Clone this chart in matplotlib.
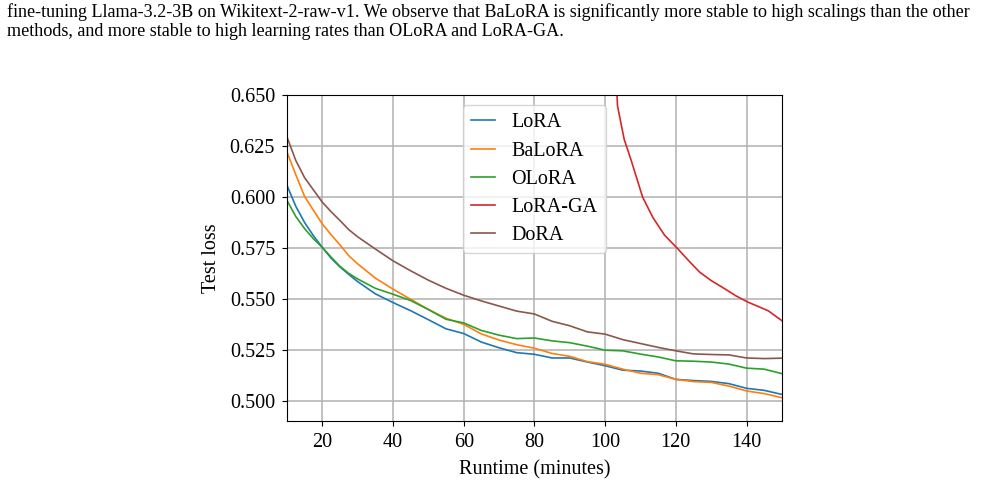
import matplotlib.pyplot as plt

plt.rcParams['font.family'] = ['Liberation Serif', 'DejaVu Serif']

# runtime (minutes) shared by the four stable methods
runtime = [10, 12.5, 15, 17.5, 20, 22.5, 25, 27.5, 30, 35, 40, 45, 50, 55, 60,
           65, 70, 75, 80, 85, 90, 95, 100, 105, 110, 115, 120, 125, 130, 135,
           140, 145, 150]

lora = [0.6058, 0.5955, 0.5875, 0.5810, 0.5753, 0.5700, 0.5657, 0.5620, 0.5585,
        0.5525, 0.5482, 0.5442, 0.5398, 0.5353, 0.5330, 0.5288, 0.5260, 0.5236,
        0.5228, 0.5210, 0.5210, 0.5190, 0.5172, 0.5150, 0.5146, 0.5135, 0.5105,
        0.5099, 0.5095, 0.5084, 0.5061, 0.5051, 0.5031]

balora = [0.6222, 0.6110, 0.6003, 0.5935, 0.5868, 0.5815, 0.5765, 0.5712, 0.5672,
          0.5602, 0.5548, 0.5498, 0.5448, 0.5405, 0.5375, 0.5328, 0.5298, 0.5275,
          0.5258, 0.5232, 0.5218, 0.5192, 0.5179, 0.5155, 0.5135, 0.5128, 0.5105,
          0.5094, 0.5090, 0.5072, 0.5048, 0.5035, 0.5015]

olora = [0.5984, 0.5905, 0.5845, 0.5795, 0.5753, 0.5705, 0.5660, 0.5625, 0.5598,
         0.5552, 0.5523, 0.5492, 0.5448, 0.5400, 0.5382, 0.5345, 0.5322, 0.5305,
         0.5308, 0.5294, 0.5285, 0.5268, 0.5248, 0.5245, 0.5229, 0.5215, 0.5196,
         0.5194, 0.5190, 0.5180, 0.5160, 0.5155, 0.5133]

dora = [0.6296, 0.6180, 0.6095, 0.6035, 0.5975, 0.5928, 0.5885, 0.5840, 0.5805,
        0.5745, 0.5687, 0.5638, 0.5592, 0.5552, 0.5518, 0.5490, 0.5465, 0.5440,
        0.5426, 0.5390, 0.5368, 0.5338, 0.5327, 0.5300, 0.5281, 0.5262, 0.5245,
        0.5230, 0.5227, 0.5225, 0.5210, 0.5207, 0.5209]

# LoRA-GA only enters the visible range late
runtime_ga = [103.0, 103.5, 105.4, 107.3, 110.6, 113.5, 116.8, 120.5, 123.5,
              126.7, 130.0, 133.8, 137.0, 140.4, 143.0, 146.1, 150.0]
lora_ga = [0.6650, 0.6448, 0.6283, 0.6184, 0.6000, 0.5900, 0.5813, 0.5747,
           0.5690, 0.5632, 0.5590, 0.5550, 0.5515, 0.5484, 0.5465, 0.5442, 0.5393]

caption = ["fine-tuning Llama-3.2-3B on Wikitext-2-raw-v1. We observe that BaLoRA is "
           "significantly more stable to high scalings than the other",
           "methods, and more stable to high learning rates than OLoRA and LoRA-GA."]

fig = plt.figure(figsize=(9.86, 4.96), dpi=100)
ax = fig.add_axes([0.291, 0.151, 0.502, 0.657])

ax.plot(runtime, lora, color='#1f77b4', lw=1.2, label='LoRA')
ax.plot(runtime, balora, color='#ff7f0e', lw=1.2, label='BaLoRA')
ax.plot(runtime, olora, color='#2ca02c', lw=1.2, label='OLoRA')
ax.plot(runtime_ga, lora_ga, color='#d62728', lw=1.2, label='LoRA-GA')
ax.plot(runtime, dora, color='#8c564b', lw=1.2, label='DoRA')

ax.set_xlim(10, 150)
ax.set_ylim(0.49, 0.65)
ax.set_xticks([20, 40, 60, 80, 100, 120, 140])
ax.set_yticks([0.500, 0.525, 0.550, 0.575, 0.600, 0.625, 0.650])
ax.yaxis.set_major_formatter(plt.FormatStrFormatter('%.3f'))
ax.tick_params(labelsize=14.5, pad=5)
ax.grid(True, color='#b0b0b0', lw=1.1)
ax.set_xlabel('Runtime (minutes)', fontsize=14.5, labelpad=6)
ax.set_ylabel('Test loss', fontsize=14.5, labelpad=6)
ax.legend(loc='upper center', fontsize=14.5, handlelength=1.2, labelspacing=0.45)

fig.text(0.007, 0.975, caption[0], fontsize=13.1, va='center', ha='left')
fig.text(0.007, 0.937, caption[1], fontsize=13.1, va='center', ha='left')

fig.savefig('out.png', dpi=100)
